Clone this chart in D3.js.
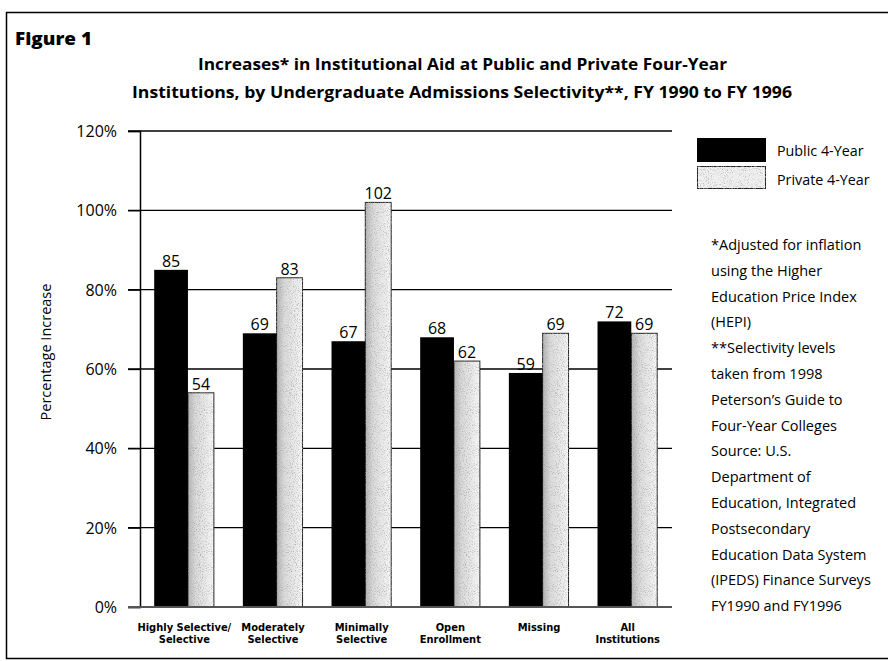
<!DOCTYPE html>
<meta charset="utf-8">
<script src="https://cdn.jsdelivr.net/npm/d3@7"></script>
<head>
<style>
  html, body { margin: 0; padding: 0; background: #fff; overflow: hidden; }
  svg { display: block; }
  text { font-family: "Open Sans", "Noto Sans", sans-serif; fill: #000; }
</style>
</head>
<body>
<script>

    var categories = ["Highly Selective/|Selective", "Moderately|Selective", "Minimally|Selective",
                      "Open|Enrollment", "Missing", "All|Institutions"];
    var publicVals = [85, 69, 67, 68, 59, 72];
    var privateVals = [54, 83, 102, 62, 69, 69];
    var seriesNames = ["Public 4-Year", "Private 4-Year"];
    var yTicks = [0, 20, 40, 60, 80, 100, 120];
    var notes = ["*Adjusted for inflation", "using the Higher", "Education Price Index", "(HEPI)",
                 "**Selectivity levels", "taken from 1998", "Peterson\u2019s Guide to", "Four-Year Colleges",
                 "Source: U.S.", "Department of", "Education, Integrated", "Postsecondary",
                 "Education Data System", "(IPEDS) Finance Surveys", "FY1990 and FY1996"];

    var W = 888, H = 661;
    var plotLeft = 140, plotRight = 672, plotTop = 131, plotBottom = 607;

    var svg = d3.select("body").append("svg")
        .attr("width", W)
        .attr("height", H);

    // speckled fill for the private bars
    var defs = svg.append("defs");
    var grad = defs.append("linearGradient")
        .attr("id", "privGrad")
        .attr("x1", "0").attr("x2", "1").attr("y1", "0").attr("y2", "0");
    grad.append("stop").attr("offset", "0%").attr("stop-color", "#b4b4b4");
    grad.append("stop").attr("offset", "30%").attr("stop-color", "#dadada");
    grad.append("stop").attr("offset", "100%").attr("stop-color", "#f6f6f6");

    var filt = defs.append("filter").attr("id", "grain");
    filt.append("feTurbulence")
        .attr("type", "fractalNoise")
        .attr("baseFrequency", "0.95")
        .attr("numOctaves", 2)
        .attr("seed", 3)
        .attr("result", "noise");
    filt.append("feColorMatrix")
        .attr("in", "noise")
        .attr("type", "matrix")
        .attr("values", "0 0 0 0 0.35  0 0 0 0 0.35  0 0 0 0 0.35  0 0 0 -2.4 1.2")
        .attr("result", "dots");
    filt.append("feComposite")
        .attr("in", "dots").attr("in2", "SourceGraphic").attr("operator", "in")
        .attr("result", "dotsIn");
    var merge = filt.append("feMerge");
    merge.append("feMergeNode").attr("in", "SourceGraphic");
    merge.append("feMergeNode").attr("in", "dotsIn");

    // frame (right side runs off the page, as in the scan)
    svg.append("path")
        .attr("d", "M" + (W + 20) + ",12.5 H6.5 V658.5 H" + (W + 20))
        .style("fill", "none")
        .style("stroke", "#000")
        .style("stroke-width", 1.5);

    svg.append("text")
        .attr("x", 15).attr("y", 45)
        .style("font-size", "17px")
        .style("font-weight", "800")
        .attr("textLength", 77)
        .attr("lengthAdjust", "spacingAndGlyphs")
        .text("Figure 1");

    svg.append("text")
        .attr("x", 198).attr("y", 70)
        .style("font-size", "16.5px")
        .style("font-weight", "700")
        .attr("textLength", 529)
        .attr("lengthAdjust", "spacingAndGlyphs")
        .text("Increases* in Institutional Aid at Public and Private Four-Year");
    svg.append("text")
        .attr("x", 132).attr("y", 98)
        .style("font-size", "16.5px")
        .style("font-weight", "700")
        .attr("textLength", 660)
        .attr("lengthAdjust", "spacingAndGlyphs")
        .text("Institutions, by Undergraduate Admissions Selectivity**, FY 1990 to FY 1996");

    var y = d3.scaleLinear().domain([0, 120]).range([plotBottom, plotTop]);
    var x0 = d3.scaleBand().domain(categories).range([plotLeft, plotRight]).paddingInner(0.32).paddingOuter(0.16);
    var pubW = x0.bandwidth() * 0.56;

    // gridlines
    svg.append("g").selectAll("line")
        .data(yTicks.filter(function(d) { return d > 0; }))
        .enter().append("line")
        .attr("x1", plotLeft - 12).attr("x2", plotRight)
        .attr("y1", function(d) { return y(d); })
        .attr("y2", function(d) { return y(d); })
        .style("stroke", "#000")
        .style("stroke-width", 1.3);

    // y axis
    var yAxis = svg.append("g")
        .attr("transform", "translate(" + plotLeft + ",0)")
        .call(d3.axisLeft(y).tickValues(yTicks).tickSize(12).tickPadding(11)
            .tickFormat(function(d) { return d + "%"; }));
    yAxis.select(".domain").style("stroke", "#000").style("stroke-width", 1.5);
    yAxis.selectAll(".tick line").style("stroke", "#000").style("stroke-width", 1.3);
    yAxis.selectAll("text")
        .style("font-family", "'Open Sans', sans-serif")
        .style("font-size", "16px")
        .attr("dy", "0.35em");

    svg.append("text")
        .attr("transform", "translate(51,352) rotate(-90)")
        .attr("text-anchor", "middle")
        .style("font-size", "14.5px")
        .text("Percentage Increase");

    // bars
    var groups = svg.append("g").selectAll("g")
        .data(categories)
        .enter().append("g")
        .attr("transform", function(d) { return "translate(" + x0(d) + ",0)"; });

    groups.append("rect")
        .attr("x", x0.bandwidth() * 0.56)
        .attr("width", x0.bandwidth() * 0.43)
        .attr("y", function(d, i) { return y(privateVals[i]); })
        .attr("height", function(d, i) { return y(0) - y(privateVals[i]); })
        .style("fill", "url(#privGrad)")
        .style("filter", "url(#grain)")
        .style("stroke", "#222")
        .style("stroke-width", 1);

    groups.append("rect")
        .attr("x", 0)
        .attr("width", pubW)
        .attr("y", function(d, i) { return y(publicVals[i]); })
        .attr("height", function(d, i) { return y(0) - y(publicVals[i]); })
        .style("fill", "#000");

    groups.append("text")
        .attr("x", pubW / 2)
        .attr("y", function(d, i) { return y(publicVals[i]) - 3; })
        .attr("text-anchor", "middle")
        .style("font-size", "16px")
        .text(function(d, i) { return publicVals[i]; });

    groups.append("text")
        .attr("x", x0.bandwidth() * 0.775)
        .attr("y", function(d, i) { return y(privateVals[i]) - 3; })
        .attr("text-anchor", "middle")
        .style("font-size", "16px")
        .text(function(d, i) { return privateVals[i]; });

    // baseline
    svg.append("line")
        .attr("x1", plotLeft - 12).attr("x2", plotRight)
        .attr("y1", y(0)).attr("y2", y(0))
        .style("stroke", "#555")
        .style("stroke-width", 2);

    // category labels, one text per line (narrow face keeps the two lines tight)
    groups.selectAll(".catLine")
        .data(function(d) { return d.split("|"); })
        .enter().append("text")
        .attr("class", "catLine")
        .attr("x", x0.bandwidth() / 2)
        .attr("y", function(d, i) { return plotBottom + 24 + i * 12.3; })
        .attr("text-anchor", "middle")
        .style("font-family", "'Liberation Sans Narrow', 'DejaVu Sans Condensed', sans-serif")
        .style("font-size", "11px")
        .style("font-weight", "700")
        .text(function(d) { return d; });

    // legend
    var legend = svg.append("g").attr("transform", "translate(697,138)");
    legend.append("rect")
        .attr("x", 0).attr("y", 0).attr("width", 69).attr("height", 24)
        .style("fill", "#000");
    legend.append("rect")
        .attr("x", 0.5).attr("y", 28.5).attr("width", 68).attr("height", 22)
        .style("fill", "#f0f0f0")
        .style("filter", "url(#grain)")
        .style("stroke", "#222");
    legend.selectAll(".legText")
        .data(seriesNames)
        .enter().append("text")
        .attr("class", "legText")
        .attr("x", 80)
        .attr("y", function(d, i) { return 18 + i * 29; })
        .style("font-size", "14.3px")
        .text(function(d) { return d; });

    // notes
    svg.append("g").selectAll("text")
        .data(notes)
        .enter().append("text")
        .attr("x", 711)
        .attr("y", function(d, i) { return 250 + i * 25.8; })
        .style("font-size", "14.5px")
        .text(function(d) { return d; });

</script>
</body>
